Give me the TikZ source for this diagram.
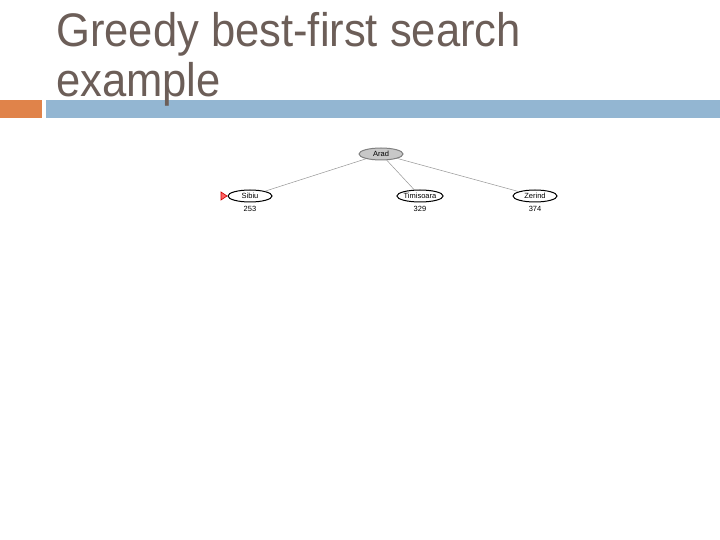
\documentclass[tikz,border=0pt]{standalone}
\usepackage{fontspec}
\setmainfont{Liberation Sans}
\usetikzlibrary{shapes.geometric}
\definecolor{titlecol}{RGB}{108,94,88}
\definecolor{orangebar}{RGB}{224,131,74}
\definecolor{bluebar}{RGB}{147,182,210}
\definecolor{edgecol}{RGB}{150,150,150}
\definecolor{aradfill}{RGB}{200,200,200}
\tikzset{
  x=1pt, y=-1pt,
  treenode/.style={ellipse, draw=black, line width=1pt, minimum width=44pt, minimum height=12pt, inner sep=0pt, font=\fontsize{7.5}{8}\selectfont},
  hval/.style={font=\fontsize{7.5}{8}\selectfont, inner sep=0pt},
  edge/.style={draw=edgecol, line width=0.5pt},
  titletext/.style={anchor=base west, inner sep=0pt, text=titlecol, font=\fontsize{44}{50}\selectfont}
}
\begin{document}
\begin{tikzpicture}
\useasboundingbox (0,0) rectangle (720,540);
\fill[white] (0,0) rectangle (720,540);
% bars
\fill[orangebar] (0,100) rectangle (42,118);
\fill[bluebar] (46,100) rectangle (720,118);
% title
\node[titletext] (t1) at (56,47) {\scalebox{0.99}[1.07]{Greedy best-first search}};
\node[titletext] (t2) at (56,97) {\scalebox{0.99}[1.07]{example}};
% tree
\node[treenode, fill=aradfill, draw=gray] (arad) at (381,154) {Arad};
\node[treenode] (sibiu) at (250,196) {Sibiu};
\node[treenode] (timi) at (420,196) {Timisoara};
\node[treenode] (zer) at (535,196) {Zerind};
\node[hval] (h1) at (250,209) {253};
\node[hval] (h2) at (420,209) {329};
\node[hval] (h3) at (535,209) {374};
\draw[edge] (arad) -- (sibiu);
\draw[edge] (arad) -- (timi);
\draw[edge] (arad) -- (zer);
% marker
\coordinate (mk) at (227,196);
\draw[red!80!black, fill=red!60, line width=0.6pt] (mk) -- ++(-6,-4) -- ++(0,8) -- cycle;
\end{tikzpicture}
\end{document}
